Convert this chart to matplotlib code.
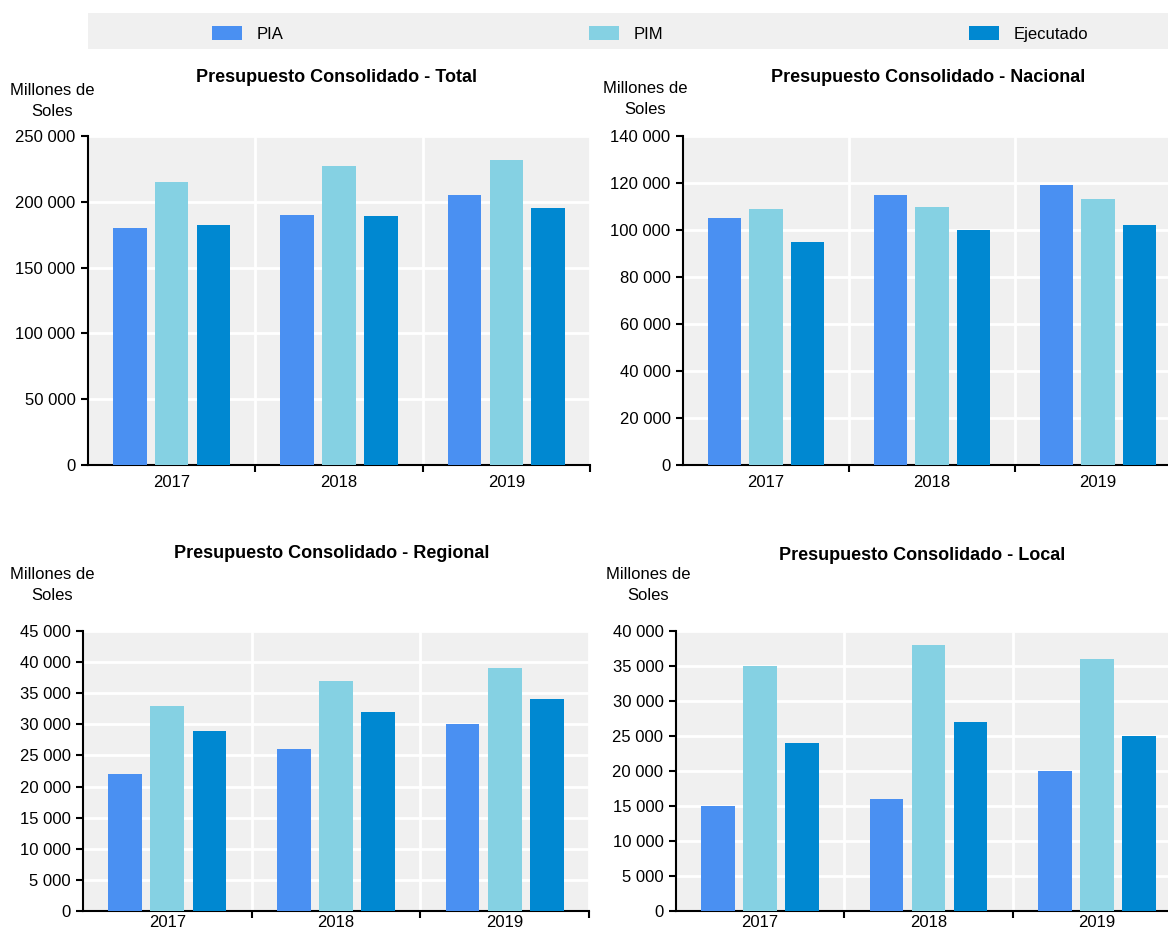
import matplotlib
matplotlib.use("Agg")
import matplotlib.pyplot as plt
from matplotlib import font_manager
from matplotlib.patches import Patch, Rectangle

# condensed sans if available
_names = {f.name for f in font_manager.fontManager.ttflist}
FAMILY = ['Liberation Sans Narrow'] if 'Liberation Sans Narrow' in _names else ['Liberation Sans', 'DejaVu Sans']
plt.rcParams['font.family'] = FAMILY + ['DejaVu Sans']

years = ['2017', '2018', '2019']
series = ['PIA', 'PIM', 'Ejecutado']
colors = ['#4a90f2', '#85d1e3', '#0088d1']

total_pia = [180000, 190000, 205000]
total_pim = [215000, 227000, 232000]
total_ejec = [182000, 189000, 195000]

nacional_pia = [105000, 115000, 119000]
nacional_pim = [109000, 110000, 113000]
nacional_ejec = [95000, 100000, 102000]

regional_pia = [22000, 26000, 30000]
regional_pim = [33000, 37000, 39000]
regional_ejec = [29000, 32000, 34000]

local_pia = [15000, 16000, 20000]
local_pim = [35000, 38000, 36000]
local_ejec = [24000, 27000, 25000]

W, H = 1168, 933
fig = plt.figure(figsize=(W / 100, H / 100), dpi=100)


def px_axes(left, top, right, bottom):
    return fig.add_axes([left / W, 1 - bottom / H, (right - left) / W, (bottom - top) / H])


def fmt(v):
    return f'{int(v):,}'.replace(',', ' ')


def panel(box, title, data, ymax, step, title_x, title_y, lab_x, lab_y, xpad=7):
    ax = px_axes(*box)
    ax.set_facecolor('#f0f0f0')
    x = range(len(years))
    for i, vals in enumerate(data):
        ax.bar([k + (i - 1) * 0.25 for k in x], vals, width=0.2, color=colors[i],
               zorder=3)
    ax.set_xlim(-0.5, 2.5)
    ax.set_ylim(0, ymax)
    yt = list(range(0, ymax + 1, step))
    ax.set_yticks(yt)
    ax.set_yticklabels([fmt(v) for v in yt], fontsize=12)
    ax.set_xticks(list(x))
    ax.set_xticklabels(years, fontsize=12)
    ax.set_xticks([0.5, 1.5, 2.5], minor=True)
    ax.tick_params(axis='x', which='major', length=0, pad=xpad)
    ax.tick_params(axis='x', which='minor', length=5, width=1.5, direction='out')
    ax.tick_params(axis='y', length=5, width=1.5, pad=4)
    ax.grid(axis='y', color='white', linewidth=2, zorder=1)
    ax.grid(axis='x', which='minor', color='white', linewidth=2, zorder=1)
    for s in ('top', 'right'):
        ax.spines[s].set_visible(False)
    for s in ('left', 'bottom'):
        ax.spines[s].set_linewidth(1.5)
    ax.set_axisbelow(True)
    fig.text(title_x / W, 1 - title_y / H, title, ha='center', va='center',
             fontsize=13, fontweight='bold')
    fig.text(lab_x / W, 1 - lab_y / H, 'Millones de\nSoles', ha='center', va='center',
             fontsize=12, linespacing=1.45)
    return ax


panel((88, 136, 590, 465), 'Presupuesto Consolidado - Total',
      [total_pia, total_pim, total_ejec], 250000, 50000, 336, 77, 52, 101)
panel((683, 136, 1181, 465), 'Presupuesto Consolidado - Nacional',
      [nacional_pia, nacional_pim, nacional_ejec], 140000, 20000, 928, 77, 645, 99)
panel((83, 631, 589, 911), 'Presupuesto Consolidado - Regional',
      [regional_pia, regional_pim, regional_ejec], 45000, 5000, 332, 553, 52, 585,
      xpad=3)
panel((676, 631, 1181, 911), 'Presupuesto Consolidado - Local',
      [local_pia, local_pim, local_ejec], 40000, 5000, 922, 555, 648, 585, xpad=3)

# legend band
fig.patches.append(Rectangle((88 / W, 1 - 49 / H), (1168 - 88) / W, 36 / H,
                             transform=fig.transFigure, facecolor='#f0f0f0',
                             edgecolor='none', zorder=0))
handles = [Patch(facecolor=c, edgecolor='none') for c in colors]
fig.legend(handles, series, loc='center', ncol=3, mode='expand', frameon=False,
           bbox_to_anchor=(205 / W, 1 - 52 / H, (1095 - 205) / W, 36 / H),
           borderaxespad=0, fontsize=12, handlelength=1.8, handleheight=0.85,
           handletextpad=0.9)

fig.savefig('out.png', dpi=100)
